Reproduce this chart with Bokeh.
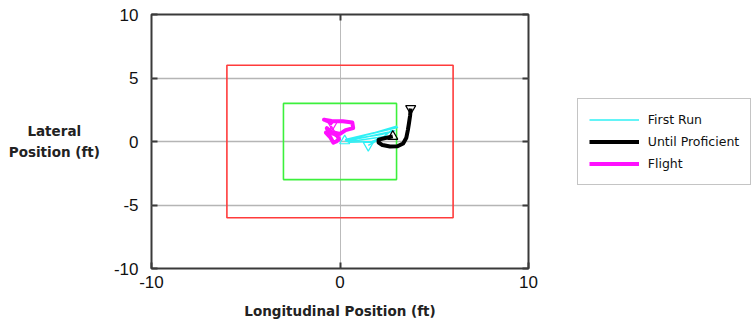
from bokeh.plotting import figure
from bokeh.models import (Legend, LegendItem, LinearAxis, FixedTicker, Range1d)
from bokeh.embed import file_html
from bokeh.resources import INLINE

# ---- data ----
x_ticks = [-10, 0, 10]
y_ticks = [-10, -5, 0, 5, 10]
tick_text = {-10: "-10", -5: "-5", 0: "0", 5: "5", 10: "10"}

zone_half = [6, 3]
zone_colors = ["#ff3b3b", "#3cf03c"]

first_run_x = [1.50, 2.30, 3.00, 1.60, 0.40, 1.20, 2.60, 3.05, 1.80, 0.30, 0.90, 2.20, 2.90, 1.40, 0.35, 1.00, 2.40, 1.70, 0.50, 0.25]
first_run_y = [-0.30, 0.35, 1.20, 0.60, 0.20, 0.45, 0.95, 1.10, 0.70, 0.15, 0.25, 0.55, 0.85, 0.35, 0.05, 0.10, 0.40, 0.00, -0.05, 0.05]

until_x = [3.75, 3.72, 3.66, 3.60, 3.52, 3.35, 3.05, 2.65, 2.25, 2.05, 2.05, 2.35, 2.80]
until_y = [2.60, 2.05, 1.45, 0.90, 0.30, -0.15, -0.38, -0.40, -0.28, -0.08, 0.15, 0.25, 0.40]

flight_x = [-0.40, -0.55, -0.85, -0.45, 0.15, 0.65, 0.70, 0.30, 0.00, -0.45, -0.70, -0.55, -0.75, -0.50, -0.35, -0.20, -0.05, -0.15, -0.45]
flight_y = [1.35, 1.55, 1.72, 1.62, 1.60, 1.50, 1.05, 0.90, 0.60, 0.75, 1.05, 0.55, 0.70, 0.30, -0.10, 0.00, 0.20, 0.45, 0.75]

series = [
    ("First Run", first_run_x, first_run_y, "#2ff0f5", 1.5),
    ("Until Proficient", until_x, until_y, "#000000", 4),
    ("Flight", flight_x, flight_y, "#ff10ff", 4),
]

# ---- figure ----
p = figure(frame_width=377, frame_height=254,
           x_range=Range1d(-10, 10), y_range=Range1d(-10, 10),
           output_backend="svg", toolbar_location=None,
           min_border_left=151, min_border_right=222,
           min_border_top=14, min_border_bottom=54,
           background_fill_color="white", border_fill_color="white")

p.outline_line_color = "#3a3a3a"
p.outline_line_width = 2

# grids
p.xgrid.ticker = FixedTicker(ticks=[0])
p.xgrid.grid_line_color = "#777777"
p.xgrid.grid_line_dash = "1 1"
p.xgrid.grid_line_width = 1
p.ygrid.ticker = FixedTicker(ticks=y_ticks)
p.ygrid.grid_line_color = "#b5b5b5"
p.ygrid.grid_line_width = 1.5

tick_font = "Liberation Sans"
for ax in p.xaxis:
    ax.ticker = FixedTicker(ticks=x_ticks)
    ax.axis_label = "Longitudinal Position (ft)"
    ax.axis_label_standoff = 12
for ax in p.yaxis:
    ax.ticker = FixedTicker(ticks=y_ticks)
    ax.axis_label = "Lateral" + "\u00a0\u00a0\u00a0\u00a0" + "\nPosition (ft)"
    ax.axis_label_orientation = "horizontal"
    ax.axis_label_standoff = 11
    ax.axis_label_text_line_height = 1.3
for ax in list(p.xaxis) + list(p.yaxis):
    ax.axis_label_text_font = "DejaVu Sans"
    ax.axis_label_text_font_style = "bold"
    ax.axis_label_text_font_size = "13.5px"
    ax.axis_label_text_color = "#222222"
    ax.axis_line_color = None
    ax.major_tick_in = 6
    ax.major_tick_out = 0
    ax.major_tick_line_color = "#3a3a3a"
    ax.major_tick_line_width = 2
    ax.minor_tick_line_color = None
    ax.major_label_text_font = tick_font
    ax.major_label_text_font_size = "17px"
    ax.major_label_text_color = "#111111"
    ax.major_label_overrides = tick_text
p.xaxis.major_label_standoff = 7
p.yaxis.major_label_standoff = 13

# mirror ticks on right and top
right_ax = LinearAxis(ticker=FixedTicker(ticks=y_ticks), axis_line_color=None,
                      major_tick_in=6, major_tick_out=0, major_tick_line_color="#3a3a3a",
                      major_tick_line_width=2, minor_tick_line_color=None,
                      major_label_text_font_size="1px", major_label_text_color=None,
                      major_label_standoff=0)
p.add_layout(right_ax, "right")
top_ax = LinearAxis(ticker=FixedTicker(ticks=[0]), axis_line_color=None,
                    major_tick_in=6, major_tick_out=0, major_tick_line_color="#3a3a3a",
                    major_tick_line_width=2, minor_tick_line_color=None,
                    major_label_text_font_size="1px", major_label_text_color=None,
                    major_label_standoff=0)
p.add_layout(top_ax, "above")

# zones
for h, c in zip(zone_half, zone_colors):
    p.quad(left=[-h], right=[h], bottom=[-h], top=[h], fill_color=None,
           line_color=c, line_width=1.6)

# trajectories
items = []
for name, xs, ys, col, lw in series:
    r = p.line(xs, ys, line_color=col, line_width=lw, line_join="round")
    p.scatter([xs[0]], [ys[0]], marker="inverted_triangle", size=10,
              line_color=col, fill_color=None, line_width=1.2)
    p.scatter([xs[-1]], [ys[-1]], marker="triangle", size=10,
              line_color=col, fill_color=None, line_width=1.2)
    items.append(LegendItem(label=name, renderers=[r]))

legend = Legend(items=items, location=(-176, 83),
                label_text_font="DejaVu Sans", label_text_font_size="12.5px",
                label_text_color="#111111",
                glyph_width=50, glyph_height=19, label_height=19,
                label_standoff=9, padding=11, spacing=3, margin=0,
                border_line_color="#8a8a8a", border_line_width=1.5,
                background_fill_color="white", background_fill_alpha=1)
p.add_layout(legend, "right")

open("out.html", "w").write(file_html(p, INLINE))
